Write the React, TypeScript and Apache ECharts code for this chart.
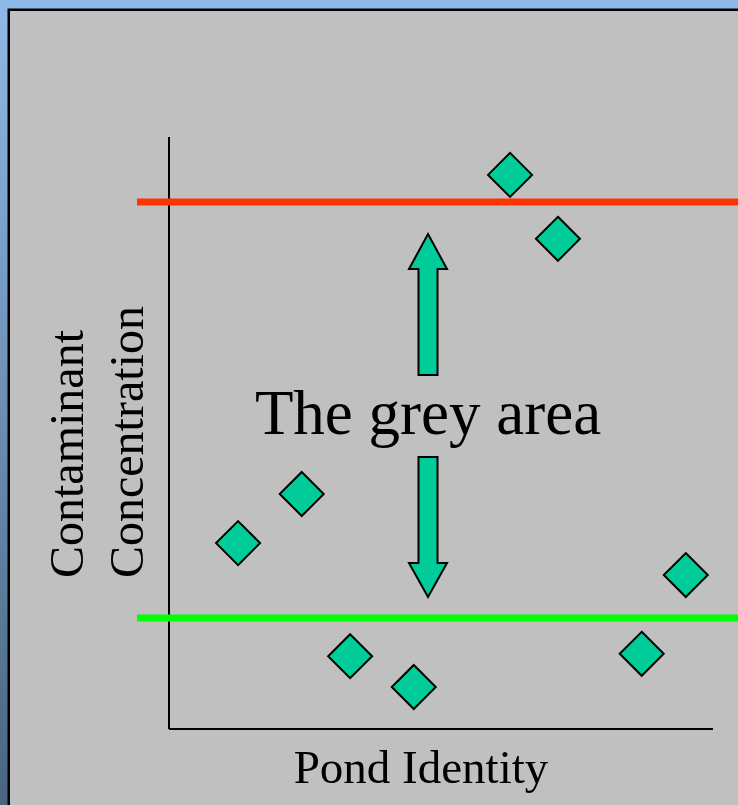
import React, { useEffect, useRef } from "react";
import * as echarts from "echarts";

// Pond positions (x, 0-100 along the axis) and contaminant concentration (y, 0-100)
const pondX = [12.7, 24.4, 33.3, 45.0, 62.7, 71.5, 86.9, 95.0];
const concentration = [31.4, 39.7, 12.3, 7.1, 93.6, 82.8, 12.7, 26.0];
const upperLimit = 89.0;
const lowerLimit = 18.75;
const xRange = [-5.88, 104.6];
const axisMax = 100;

const xTitle = "Pond Identity";
const yTitle = ["Contaminant", "Concentration"];
const note = "The grey area";

const FONT = "'Liberation Serif', 'Times New Roman', serif";

export default function App() {
  const ref = useRef<HTMLDivElement>(null);
  useEffect(() => {
    if (!ref.current) return;
    const chart = echarts.init(ref.current, null, { renderer: "svg" });
    const points = pondX.map((x, i) => [x, concentration[i]]);
    const arrowStyle = { fill: "#00CC99", stroke: "#000", lineWidth: 2, lineJoin: "miter" };
    chart.setOption({
      animation: false,
      graphic: [
        {
          type: "rect",
          z: -10,
          shape: { x: 0, y: 0, width: 738, height: 805 },
          style: {
            fill: new echarts.graphic.LinearGradient(0, 0, 0, 1, [
              { offset: 0, color: "#8FB9E8" },
              { offset: 1, color: "#496580" },
            ]),
          },
        },
        { type: "rect", z: -9, shape: { x: 7.5, y: 8.5, width: 740, height: 800 }, style: { fill: "#000" } },
        { type: "rect", z: -8, shape: { x: 10, y: 11, width: 740, height: 800 }, style: { fill: "#C0C0C0" } },
        {
          type: "polygon",
          z: 10,
          shape: {
            points: [
              [428, 234], [447, 269], [437.5, 269], [437.5, 375], [418.5, 375], [418.5, 269], [409, 269],
            ],
          },
          style: arrowStyle,
        },
        {
          type: "polygon",
          z: 10,
          shape: {
            points: [
              [418.5, 457], [437.5, 457], [437.5, 563], [447, 563], [428, 597], [409, 563], [418.5, 563],
            ],
          },
          style: arrowStyle,
        },
        {
          type: "text",
          z: 10,
          x: 428,
          y: 413,
          style: { text: note, font: `63px ${FONT}`, fill: "#000", align: "center", verticalAlign: "middle" },
        },
        {
          type: "text",
          z: 10,
          x: 421,
          y: 767,
          style: { text: xTitle, font: `47px ${FONT}`, fill: "#000", align: "center", verticalAlign: "middle" },
        },
        {
          type: "text",
          z: 10,
          x: 66,
          y: 578,
          rotation: Math.PI / 2,
          style: { text: yTitle[0], font: `48px ${FONT}`, fill: "#000", align: "left", verticalAlign: "middle" },
        },
        {
          type: "text",
          z: 10,
          x: 126,
          y: 578,
          rotation: Math.PI / 2,
          style: { text: yTitle[1], font: `48px ${FONT}`, fill: "#000", align: "left", verticalAlign: "middle" },
        },
      ],
      grid: { left: 137, right: 0, top: 137, bottom: 76 },
      xAxis: { type: "value", min: xRange[0], max: xRange[1], show: false },
      yAxis: { type: "value", min: 0, max: axisMax, show: false },
      series: [
        {
          type: "line",
          data: [[0, 0], [0, axisMax]],
          symbol: "none",
          lineStyle: { color: "#000", width: 2 },
          z: 1,
        },
        {
          type: "line",
          data: [[0, 0], [axisMax, 0]],
          symbol: "none",
          clip: false,
          lineStyle: { color: "#000", width: 2 },
          z: 1,
        },
        {
          type: "line",
          data: [[xRange[0], upperLimit], [xRange[1], upperLimit]],
          symbol: "none",
          lineStyle: { color: "#FF3300", width: 7 },
          z: 2,
        },
        {
          type: "line",
          data: [[xRange[0], lowerLimit], [xRange[1], lowerLimit]],
          symbol: "none",
          lineStyle: { color: "#00FF00", width: 7 },
          z: 2,
        },
        {
          type: "scatter",
          data: points,
          symbol: "diamond",
          symbolSize: 44,
          itemStyle: { color: "#00CC99", borderColor: "#000", borderWidth: 2, opacity: 1 },
          z: 3,
        },
      ],
    });
    return () => chart.dispose();
  }, []);
  return <div ref={ref} style={{ position: "fixed", left: 0, top: 0, width: 738, height: 805 }} />;
}
